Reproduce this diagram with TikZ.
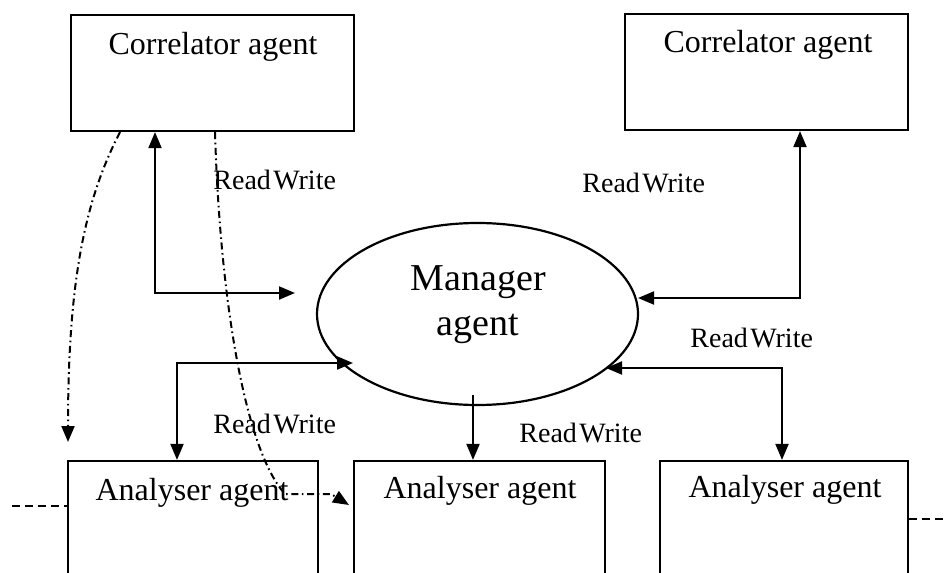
\documentclass[tikz,border=0pt]{standalone}
\usepackage{fontspec}
\setmainfont{Liberation Serif}
\usetikzlibrary{arrows.meta,shapes.geometric}
\begin{document}
\begin{tikzpicture}[x=0.5pt,y=-0.5pt,
  >={Triangle[length=8pt,width=6.5pt]},
  agentbox/.style={draw,line width=1.1pt,rectangle,inner sep=0pt},
  boxtext/.style={font=\fontsize{16}{18}\selectfont,anchor=base,inner sep=0pt},
  mgrtext/.style={font=\fontsize{19}{22}\selectfont,anchor=base,inner sep=0pt},
  rwlabel/.style={font=\fontsize{14}{16}\selectfont,anchor=base west,inner sep=0pt},
  link/.style={line width=1pt},
  flow/.style={line width=1pt,dash pattern=on 3.5pt off 1.8pt on 0.8pt off 1.8pt},
  cont/.style={line width=0.8pt,dash pattern=on 4pt off 2.5pt}]

% page area
\clip (0,0) rectangle (946,572);
\fill[white] (0,0) rectangle (946,572);

% correlator agents
\node[agentbox,minimum width=141.5pt,minimum height=58pt] (c1) at (212.5,73) {};
\node[boxtext] (c1t) at (213,55) {Correlator agent};
\node[agentbox,minimum width=141.5pt,minimum height=58pt] (c2) at (766.5,72) {};
\node[boxtext] (c2t) at (768,53) {Correlator agent};

% manager agent
\node[draw,ellipse,line width=1.1pt,inner sep=0pt,minimum width=160.5pt,minimum height=91pt] (m) at (477.5,314) {};
\node[mgrtext] (mt1) at (478.5,290) {Manager};
\node[mgrtext] (mt2) at (478,335) {agent};

% analyser agents (running past the lower edge)
\node[agentbox,minimum width=125pt,minimum height=75pt] (a1) at (193,536) {};
\node[boxtext] (a1t) at (192,500) {Analyser agent};
\node[agentbox,minimum width=125.5pt,minimum height=75pt] (a2) at (479.5,536) {};
\node[boxtext] (a2t) at (480,498) {Analyser agent};
\node[agentbox,minimum width=124pt,minimum height=75pt] (a3) at (784,536) {};
\node[boxtext] (a3t) at (785,497) {Analyser agent};

% bend points and free ends of the connectors
\coordinate (k1) at (155,293);
\coordinate (k1e) at (295,293);
\coordinate (k2) at (800,298);
\coordinate (k2e) at (638,298);
\coordinate (k3) at (177,363);
\coordinate (k3e) at (353,363);
\coordinate (k4) at (473,395);
\coordinate (k5) at (782,368);
\coordinate (k5e) at (606,368);

% read/write links
\draw[link,<->] (c1.south -| k1) -- (k1) -- (k1e);
\draw[link,<->] (c2.south -| k2) -- (k2) -- (k2e);
\draw[link,<->] (a1.north -| k3) -- (k3) -- (k3e);
\draw[link,->] (k4) -- (a2.north -| k4);
\draw[link,<->] (a3.north -| k5) -- (k5) -- (k5e);

% labels
\node[rwlabel] (rw1) at (213,190) {Read\kern1.2pt Write};
\node[rwlabel] (rw2) at (582,192) {Read\kern1.2pt Write};
\node[rwlabel] (rw3) at (690,347) {Read\kern1.2pt Write};
\node[rwlabel] (rw4) at (213,433) {Read\kern1.2pt Write};
\node[rwlabel] (rw5) at (519,442) {Read\kern1.2pt Write};

% migration paths
\coordinate (d1) at (120,131);
\coordinate (d1e) at (68,442);
\draw[flow,->] (c1.south -| d1) .. controls (85,200) and (68,280) .. (d1e);
\coordinate (d2) at (215,131);
\coordinate (d2e) at (349,505);
\draw[flow,->] (c1.south -| d2) .. controls (220,300) and (245,450) .. (285,494) -- (331,494) -- (d2e);

% continuation to further agents
\coordinate (l1) at (12,506);
\coordinate (r1) at (950,519);
\draw[cont] (l1) -- (l1 -| a1.west);
\draw[cont] (a3.east |- r1) -- (r1);
\end{tikzpicture}
\end{document}
